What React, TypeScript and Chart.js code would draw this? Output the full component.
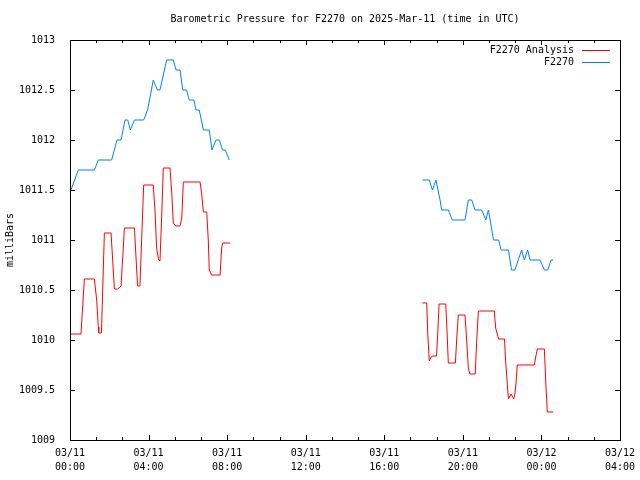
import { useEffect, useRef } from "react";
import { Chart, registerables } from "chart.js";

Chart.register(...registerables);

const titleText = "Barometric Pressure for F2270 on 2025-Mar-11 (time in UTC)";
const yAxisLabel = "milliBars";
const analysisLabel = "F2270 Analysis";
const stationLabel = "F2270";

// x tick labels (every 4 hours from 03/11 00:00)
const xTickDates = ["03/11", "03/11", "03/11", "03/11", "03/11", "03/11", "03/12", "03/12"];
const xTickTimes = ["00:00", "04:00", "08:00", "12:00", "16:00", "20:00", "00:00", "04:00"];

// hours since 2025-03-11 00:00 UTC ; null value = gap
const analysisHours = [
  0.05, 0.56, 0.73, 1.24, 1.36, 1.44, 1.46, 1.6, 1.75, 2.09, 2.26, 2.43, 2.6, 2.77, 3.28, 3.44, 3.56, 3.75,
  4.24, 4.33, 4.41, 4.5, 4.58, 4.67, 4.75, 5.09, 5.18, 5.26, 5.38, 5.6, 5.69, 5.77, 6.62, 6.7, 6.79, 6.96,
  7.04, 7.09, 7.21, 7.64, 7.72, 7.77, 8.15,
  13,
  17.94, 18.16, 18.21, 18.29, 18.36, 18.45, 18.66, 18.73, 18.79, 19.13, 19.2, 19.26, 19.62, 19.69, 19.77,
  20.11, 20.2, 20.28, 20.36, 20.63, 20.7, 20.79, 21.6, 21.67, 21.82, 22.12, 22.18, 22.32, 22.45, 22.59,
  22.65, 22.71, 22.77, 23.64, 23.71, 23.79, 24.15, 24.22, 24.3, 24.6,
];
const analysisValues: (number | null)[] = [
  1010.06, 1010.06, 1010.61, 1010.61, 1010.4, 1010.13, 1010.07, 1010.07, 1011.07, 1011.07, 1010.51, 1010.51,
  1010.54, 1011.12, 1011.12, 1010.54, 1010.54, 1011.55, 1011.55, 1011.28, 1010.92, 1010.81, 1010.79, 1011.25,
  1011.72, 1011.72, 1011.47, 1011.17, 1011.14, 1011.14, 1011.22, 1011.58, 1011.58, 1011.47, 1011.28, 1011.28,
  1011.0, 1010.7, 1010.65, 1010.65, 1010.92, 1010.97, 1010.97,
  null,
  1010.37, 1010.37, 1010.08, 1009.79, 1009.82, 1009.84, 1009.84, 1010.1, 1010.36, 1010.36, 1010.06, 1009.77,
  1009.77, 1010.02, 1010.25, 1010.25, 1009.98, 1009.72, 1009.66, 1009.66, 1009.97, 1010.29, 1010.29, 1010.12,
  1010.01, 1010.01, 1009.78, 1009.41, 1009.46, 1009.41, 1009.46, 1009.58, 1009.75, 1009.75, 1009.83, 1009.91,
  1009.91, 1009.58, 1009.28, 1009.28,
];

const stationHours = [
  0.05, 0.42, 1.24, 1.44, 2.12, 2.39, 2.6, 2.8, 2.94, 3.07, 3.28, 3.75, 3.95, 4.24, 4.45, 4.58, 4.92, 5.26,
  5.4, 5.6, 5.74, 5.94, 6.07, 6.31, 6.41, 6.58, 6.79, 7.09, 7.23, 7.43, 7.6, 7.77, 7.91, 8.11,
  13,
  17.94, 18.29, 18.45, 18.63, 18.84, 18.92, 19.26, 19.46, 20.11, 20.28, 20.45, 20.62, 20.96, 21.17, 21.3,
  21.56, 21.82, 21.95, 22.32, 22.48, 22.65, 22.99, 23.13, 23.3, 23.42, 23.93, 24.15, 24.32, 24.49, 24.6,
];
const stationValues: (number | null)[] = [
  1011.5, 1011.7, 1011.7, 1011.8, 1011.8, 1012.0, 1012.0, 1012.2, 1012.2, 1012.1, 1012.2, 1012.2, 1012.3,
  1012.6, 1012.5, 1012.5, 1012.8, 1012.8, 1012.7, 1012.7, 1012.5, 1012.5, 1012.4, 1012.4, 1012.3, 1012.3,
  1012.1, 1012.1, 1011.9, 1012.0, 1012.0, 1011.9, 1011.9, 1011.8,
  null,
  1011.6, 1011.6, 1011.5, 1011.6, 1011.4, 1011.3, 1011.3, 1011.2, 1011.2, 1011.4, 1011.4, 1011.3, 1011.3,
  1011.2, 1011.3, 1011.0, 1011.0, 1010.9, 1010.9, 1010.7, 1010.7, 1010.9, 1010.8, 1010.9, 1010.8, 1010.8,
  1010.7, 1010.7, 1010.8, 1010.8,
];

const FONT = "'DejaVu Sans Mono', 'Liberation Mono', monospace";
const RED = "#ff0000";
const BLUE = "#0080ff";

const gnuplotPlugin = {
  id: "gnuplotDecor",
  afterDraw(chart: any) {
    const ctx = chart.ctx as CanvasRenderingContext2D;
    const { left, right, top, bottom } = chart.chartArea;
    const xs = chart.scales.x;
    const ys = chart.scales.y;
    ctx.save();
    ctx.strokeStyle = "#000";
    ctx.lineWidth = 1;
    // border
    ctx.strokeRect(Math.round(left) + 0.5, Math.round(top) + 0.5, Math.round(right - left), Math.round(bottom - top));
    // y ticks (inward, mirrored)
    ctx.beginPath();
    for (let v = 1009; v <= 1013.001; v += 0.5) {
      const y = Math.round(ys.getPixelForValue(v)) + 0.5;
      ctx.moveTo(left, y);
      ctx.lineTo(left + 5, y);
      ctx.moveTo(right, y);
      ctx.lineTo(right - 5, y);
    }
    // x ticks: major every 4h, minor every 80 min
    for (let i = 0; i <= 21; i++) {
      const h = (i * 4) / 3;
      const x = Math.round(xs.getPixelForValue(h)) + 0.5;
      const len = i % 3 === 0 ? 5 : 3;
      ctx.moveTo(x, bottom);
      ctx.lineTo(x, bottom - len);
      ctx.moveTo(x, top);
      ctx.lineTo(x, top + len);
    }
    ctx.stroke();
    // title
    ctx.fillStyle = "#000";
    ctx.font = `10px ${FONT}`;
    ctx.textAlign = "center";
    ctx.textBaseline = "middle";
    ctx.fillText(titleText, (left + right) / 2, 19);
    // legend
    ctx.textAlign = "right";
    const items = [
      { label: analysisLabel, color: RED, y: 50 },
      { label: stationLabel, color: BLUE, y: 62 },
    ];
    for (const it of items) {
      ctx.fillStyle = "#000";
      ctx.fillText(it.label, 574, it.y);
      ctx.strokeStyle = it.color;
      ctx.beginPath();
      ctx.moveTo(582, it.y + 0.5);
      ctx.lineTo(610, it.y + 0.5);
      ctx.stroke();
    }
    ctx.restore();
  },
};

export default function App() {
  const ref = useRef<HTMLCanvasElement>(null);
  useEffect(() => {
    document.body.style.margin = "0";
    Chart.defaults.font.family = FONT;
    Chart.defaults.font.size = 10;
    Chart.defaults.color = "#000";
    const chart = new Chart(ref.current!, {
      type: "line",
      data: {
        datasets: [
          {
            label: analysisLabel,
            data: analysisHours.map((h, i) => ({ x: h, y: analysisValues[i] })) as any,
            borderColor: RED,
            backgroundColor: RED,
            borderWidth: 1,
            pointRadius: 0,
            tension: 0,
            spanGaps: false,
          },
          {
            label: stationLabel,
            data: stationHours.map((h, i) => ({ x: h, y: stationValues[i] })) as any,
            borderColor: BLUE,
            backgroundColor: BLUE,
            borderWidth: 1,
            pointRadius: 0,
            tension: 0,
            spanGaps: false,
          },
        ],
      },
      options: {
        responsive: false,
        animation: false,
        layout: { padding: { top: 40, right: 20, left: 0, bottom: 0 } },
        plugins: {
          legend: { display: false },
          title: { display: false },
          tooltip: { enabled: false },
        },
        scales: {
          x: {
            type: "linear",
            min: 0,
            max: 28,
            afterBuildTicks: (s: any) => {
              s.ticks = xTickTimes.map((_, i) => ({ value: i * 4 }));
            },
            afterFit: (s: any) => {
              s.height = 40;
            },
            ticks: {
              autoSkip: false,
              maxRotation: 0,
              minRotation: 0,
              padding: -2,
              font: { size: 10, lineHeight: 1.4 },
              color: "#000",
              callback: (v: any) => {
                const i = Math.round(Number(v) / 4);
                return [xTickDates[i], xTickTimes[i]];
              },
            },
            grid: { display: false },
            border: { display: false },
          },
          y: {
            min: 1009,
            max: 1013,
            afterFit: (s: any) => {
              s.width = 70;
            },
            ticks: {
              stepSize: 0.5,
              padding: 7,
              color: "#000",
              font: { size: 10 },
              callback: (v: any) => String(Math.round(Number(v) * 10) / 10),
            },
            title: {
              display: true,
              text: yAxisLabel,
              color: "#000",
              font: { size: 10 },
              padding: { top: 4, bottom: 4 },
            },
            grid: { display: false },
            border: { display: false },
          },
        },
      },
      plugins: [gnuplotPlugin],
    });
    return () => chart.destroy();
  }, []);
  return (
    <div style={{ position: "absolute", left: 0, top: 0, width: 640, height: 480, background: "#fff" }}>
      <canvas ref={ref} width={640} height={480} style={{ display: "block" }} />
    </div>
  );
}
